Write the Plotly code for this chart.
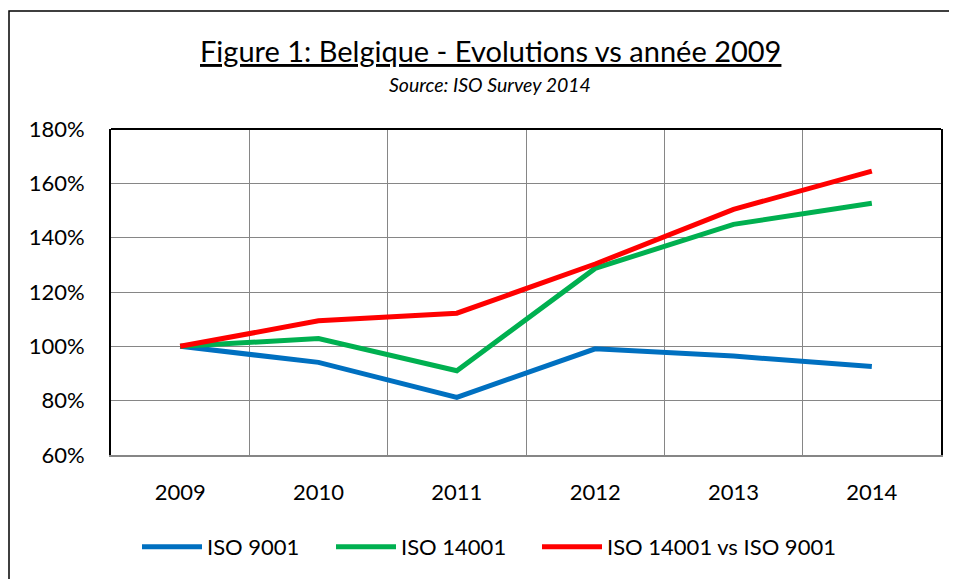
import plotly.graph_objects as go

years = ["2009", "2010", "2011", "2012", "2013", "2014"]
iso9001 = [1.00, 0.941, 0.812, 0.991, 0.964, 0.926]
iso14001 = [1.00, 1.029, 0.910, 1.287, 1.449, 1.527]
iso14001_vs_9001 = [1.00, 1.094, 1.122, 1.303, 1.504, 1.645]
series_names = ["ISO 9001", "ISO 14001", "ISO 14001 vs ISO 9001"]
colors = ["#0070C0", "#00B050", "#FF0000"]
y_ticks = [0.6, 0.8, 1.0, 1.2, 1.4, 1.6, 1.8]

FONT = "Lato"
OFF = 8  # page body margin

W, H = 957 - OFF, 579 - OFF
# plot area in screen coords: x 111..941, y 129..455
L = 111 - OFF
R = W - (941 - OFF)
T = 129 - OFF
B = H - (455 - OFF)
pw, ph = W - L - R, H - T - B


def px(x):
    return (x - OFF - L) / pw


def py(y):
    return (H - B - (y - OFF)) / ph


legend_ids = ["legend", "legend2", "legend3"]
legend_starts = [143, 337, 543]  # screen x where each legend line begins

fig = go.Figure()
for name, vals, col, lid in zip(series_names, [iso9001, iso14001, iso14001_vs_9001], colors, legend_ids):
    fig.add_trace(go.Scatter(
        x=years, y=vals, name=name, mode="lines", legend=lid,
        line=dict(color=col, width=5, shape="linear"),
    ))

legend_common = dict(
    orientation="h", yanchor="middle", xanchor="left",
    font=dict(size=22, family=FONT), itemwidth=60,
    bgcolor="rgba(0,0,0,0)", borderwidth=0,
)
legend_layout = {}
for lid, xs in zip(legend_ids, legend_starts):
    legend_layout[lid] = dict(legend_common, x=px(xs - 6), y=py(547))

fig.update_layout(
    width=W, height=H,
    margin=dict(l=L, r=R, t=T, b=B, autoexpand=False),
    paper_bgcolor="white", plot_bgcolor="white",
    font=dict(family=FONT, color="black", size=22),
    showlegend=True,
    **legend_layout,
    xaxis=dict(
        type="category", range=[-0.5, 5.5], tickson="boundaries",
        showgrid=True, gridcolor="#868686", gridwidth=1.3,
        showline=True, linecolor="#868686", linewidth=1.5,
        ticks="", ticklabelstandoff=17,
        tickfont=dict(size=22, family=FONT), zeroline=False,
    ),
    yaxis=dict(
        range=[0.6, 1.8], tickvals=y_ticks, tickformat=".0%",
        showgrid=True, gridcolor="#868686", gridwidth=1.3,
        showline=True, linecolor="black", linewidth=1.8, mirror=True,
        ticks="outside", ticklen=20, tickcolor="rgba(0,0,0,0)",
        tickfont=dict(size=22, family=FONT), zeroline=False,
    ),
    shapes=[
        dict(type="rect", xref="paper", yref="paper",
             x0=px(9), x1=px(990), y0=py(620), y1=py(11),
             line=dict(color="black", width=1.5), layer="below"),
        dict(type="line", xref="paper", yref="paper",
             x0=0, x1=1, y0=1, y1=1, line=dict(color="black", width=2)),
    ],
    annotations=[
        dict(text="<u>Figure 1: Belgique - Evolutions vs année 2009</u>",
             xref="paper", yref="paper", x=px(490), y=py(50),
             xanchor="center", yanchor="middle", showarrow=False,
             font=dict(size=29, family=FONT, color="black")),
        dict(text="<i>Source: ISO Survey 2014</i>",
             xref="paper", yref="paper", x=px(490), y=py(85),
             xanchor="center", yanchor="middle", showarrow=False,
             font=dict(size=19.5, family=FONT, color="black")),
    ],
)

fig.write_html("out.html")
